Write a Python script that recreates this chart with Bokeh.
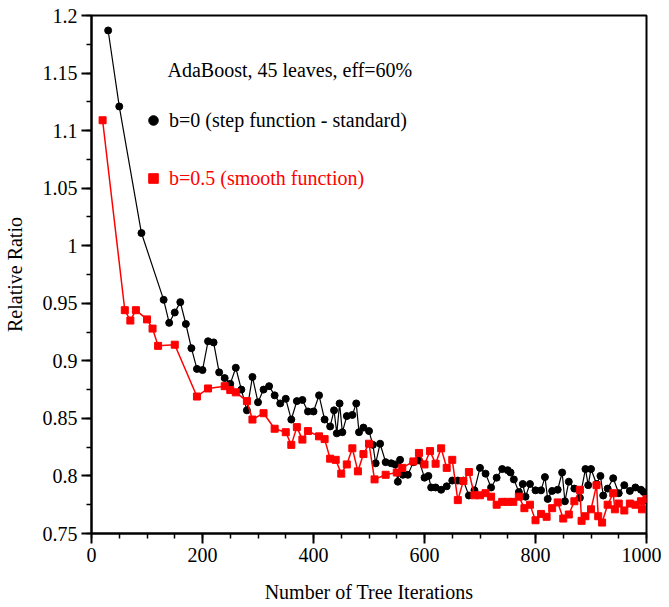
from bokeh.plotting import figure
from bokeh.models import Legend, LegendItem, Label, FixedTicker
from bokeh.embed import file_html
from bokeh.resources import INLINE

# ---- data ----
black_x = [30, 50, 90, 130, 140, 150, 160, 170, 180, 190, 200, 210, 220, 230, 240, 250,
           260, 270, 280, 290, 300, 310, 320, 330, 340, 350, 360, 370, 380, 390, 400, 410,
           420, 430, 437, 442, 447, 452, 460, 470, 477, 482, 490, 500, 507, 512, 520, 530,
           540, 547, 552, 556, 561, 570, 580, 590, 600, 607, 612, 620, 630, 640, 650, 660,
           670, 680, 690, 700, 710, 720, 730, 740, 750, 755, 761, 770, 777, 782, 790, 800,
           810, 817, 822, 830, 840, 848, 853, 860, 870, 880, 890, 895, 900, 910, 917, 922,
           930, 940, 950, 960, 970, 980, 990, 995, 1000]
black_y = [1.187, 1.121, 1.011, 0.953, 0.933, 0.942, 0.951, 0.932, 0.911, 0.893, 0.892, 0.917,
           0.916, 0.890, 0.885, 0.880, 0.894, 0.875, 0.857, 0.886, 0.864, 0.875, 0.878, 0.870,
           0.863, 0.867, 0.849, 0.865, 0.866, 0.856, 0.856, 0.870, 0.849, 0.843, 0.857, 0.837,
           0.863, 0.838, 0.852, 0.853, 0.863, 0.838, 0.842, 0.839, 0.827, 0.811, 0.828, 0.812,
           0.811, 0.810, 0.795, 0.814, 0.801, 0.801, 0.812, 0.8135, 0.7985, 0.800, 0.790, 0.790,
           0.788, 0.791, 0.796, 0.796, 0.796, 0.783, 0.7875, 0.807, 0.802, 0.790, 0.7985, 0.806,
           0.805, 0.803, 0.797, 0.786, 0.793, 0.782, 0.793, 0.7875, 0.7875, 0.799, 0.780, 0.787,
           0.788, 0.803, 0.778, 0.795, 0.789, 0.781, 0.806, 0.792, 0.806, 0.793, 0.800, 0.783,
           0.789, 0.798, 0.785, 0.792, 0.787, 0.790, 0.788, 0.786, 0.779]

red_x = [20, 60, 70, 80, 100, 110, 120, 150, 190, 210, 240, 250, 260, 280, 290, 310, 330,
         350, 360, 370, 380, 390, 410, 420, 430, 440, 450, 460, 470, 480, 490, 500, 510, 530,
         550, 560, 580, 590, 600, 610, 620, 630, 640, 650, 660, 670, 680, 690, 700, 710, 720,
         730, 740, 750, 760, 770, 780, 790, 800, 810, 820, 830, 840, 850, 860, 870, 880, 883,
         890, 900, 910, 913, 920, 930, 940, 943, 950, 960, 970, 980, 990, 992, 1000]
red_y = [1.109, 0.944, 0.935, 0.944, 0.936, 0.928, 0.913, 0.914, 0.869, 0.876, 0.878, 0.8746,
         0.8726, 0.865, 0.849, 0.8545, 0.841, 0.838, 0.827, 0.8424, 0.8316, 0.839, 0.8344,
         0.832, 0.815, 0.814, 0.802, 0.810, 0.824, 0.804, 0.819, 0.828, 0.797, 0.801, 0.803,
         0.807, 0.8126, 0.820, 0.810, 0.8216, 0.8106, 0.824, 0.807, 0.814, 0.779, 0.7956,
         0.8034, 0.7832, 0.7832, 0.785, 0.782, 0.775, 0.7775, 0.7775, 0.7775, 0.782, 0.772,
         0.775, 0.7615, 0.767, 0.7645, 0.772, 0.777, 0.763, 0.7665, 0.778, 0.788, 0.761, 0.765,
         0.771, 0.792, 0.765, 0.7595, 0.775, 0.785, 0.771, 0.776, 0.770, 0.776, 0.775, 0.778,
         0.771, 0.780]

x_ticks = [0, 200, 400, 600, 800, 1000]
y_ticks = [0.75, 0.8, 0.85, 0.9, 0.95, 1.0, 1.05, 1.1, 1.15, 1.2]
y_tick_labels = ["0.75", "0.8", "0.85", "0.9", "0.95", "1", "1.05", "1.1", "1.15", "1.2"]

series_labels = ["b=0 (step function - standard)", "b=0.5 (smooth function)"]
note_text = "AdaBoost, 45 leaves, eff=60%"

FONT = "Liberation Serif"
FS = "20px"

p = figure(width=661, height=605, x_range=(0, 1000), y_range=(0.75, 1.2),
           output_backend="svg", toolbar_location=None,
           min_border_left=90, min_border_top=15, min_border_right=15, min_border_bottom=70)
p.grid.visible = False
p.outline_line_color = "black"
p.outline_line_width = 2
p.background_fill_color = "white"
p.border_fill_color = "white"

# lines + markers
p.line(black_x, black_y, color="black", line_width=1.2)
r_black = p.scatter(black_x, black_y, marker="circle", size=7, color="black")
p.line(red_x, red_y, color="red", line_width=1.5)
r_red = p.scatter(red_x, red_y, marker="square", size=7, color="red")

# axes
for ax in (p.xaxis[0], p.yaxis[0]):
    ax.axis_line_width = 2
    ax.major_tick_line_width = 2
    ax.minor_tick_line_width = 1.5
    ax.major_tick_in = 0
    ax.major_tick_out = 10
    ax.minor_tick_in = 0
    ax.minor_tick_out = 5
    ax.major_label_text_font = FONT
    ax.major_label_text_font_size = FS
    ax.major_label_text_color = "black"
    ax.axis_label_text_font = FONT
    ax.axis_label_text_font_size = FS
    ax.axis_label_text_font_style = "normal"
    ax.axis_label_text_color = "black"
    ax.major_label_standoff = 4

p.xaxis.ticker = FixedTicker(ticks=x_ticks, minor_ticks=list(range(0, 1001, 50)))
p.yaxis.ticker = FixedTicker(ticks=y_ticks,
                             minor_ticks=[0.75 + 0.025 * i for i in range(19)])
p.yaxis.major_label_overrides = {t: s for t, s in zip(y_ticks, y_tick_labels)}
p.xaxis.axis_label = "Number of Tree Iterations"
p.yaxis.axis_label = "Relative Ratio"
p.xaxis.axis_label_standoff = 16
p.yaxis.axis_label_standoff = 14

# annotation text
p.add_layout(Label(x=137, y=1.153, text=note_text, text_font=FONT, text_font_size=FS,
                   text_color="black", text_baseline="middle"))

# legends (one per series so each label keeps its own colour)
def make_legend(renderer, label, color, loc):
    lg = Legend(items=[LegendItem(label=label, renderers=[renderer])],
                location=loc, padding=0, margin=0, spacing=0,
                glyph_width=24, glyph_height=24, label_height=24, label_standoff=4,
                label_text_font=FONT, label_text_font_size=FS, label_text_color=color,
                border_line_alpha=0, background_fill_alpha=0)
    return lg

p.add_layout(make_legend(r_black, series_labels[0], "black", (50, 401)))
p.add_layout(make_legend(r_red, series_labels[1], "red", (50, 343)))

open("out.html", "w").write(file_html(p, INLINE))
